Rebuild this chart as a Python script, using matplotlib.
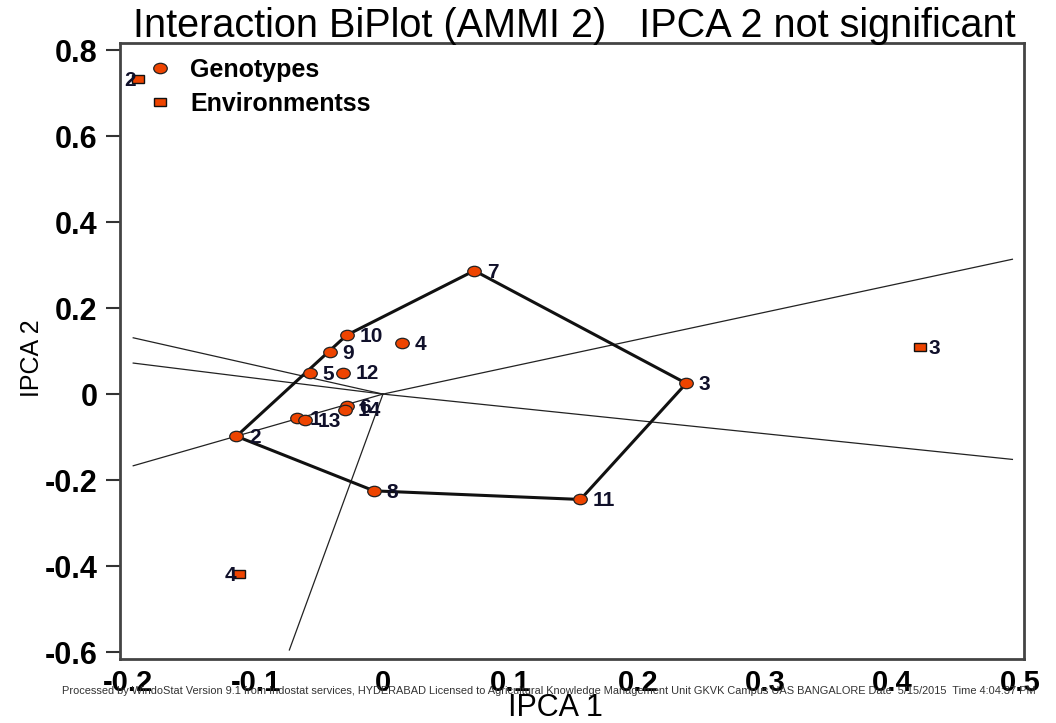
import numpy as np
import matplotlib.pyplot as plt
from matplotlib.markers import MarkerStyle
from matplotlib.transforms import Affine2D
from matplotlib.lines import Line2D

plt.rcParams['font.family'] = ['Liberation Sans', 'DejaVu Sans']

# genotype scores (IPCA 1, IPCA 2)
genotypes = ['1', '2', '3', '4', '5', '6', '7', '8', '9', '10', '11', '12', '13', '14']
gen_x = [-0.0675, -0.115, 0.238, 0.0147, -0.0573, -0.0285, 0.0717, -0.007,
         -0.0416, -0.0285, 0.155, -0.031, -0.061, -0.030]
gen_y = [-0.056, -0.098, 0.025, 0.119, 0.048, -0.027, 0.287, -0.225,
         0.097, 0.137, -0.245, 0.050, -0.060, -0.036]

# environment scores
environments = ['2', '3', '4']
env_x = [-0.192, 0.4215, -0.1128]
env_y = [0.732, 0.1086, -0.419]

# genotypes on the outer polygon, in drawing order
hull = ['7', '3', '11', '8', '2', '10']

xticks = [-0.2, -0.1, 0, 0.1, 0.2, 0.3, 0.4, 0.5]
yticks = [-0.6, -0.4, -0.2, 0, 0.2, 0.4, 0.6, 0.8]

# label side for environment names
env_side = {'2': 'left', '3': 'right', '4': 'left'}

fill = '#EE4400'
circ = MarkerStyle('o', transform=Affine2D().scale(1.3, 1.0))
sqr = MarkerStyle('s', transform=Affine2D().scale(1.4, 1.0))

fig = plt.figure(figsize=(10.56, 7.23), dpi=100)
ax = fig.add_axes([0.1136, 0.0885, 0.8561, 0.8524])
ax.set_xlim(-0.2064, 0.5031)
ax.set_ylim(-0.616, 0.817)

gx = np.array(gen_x)
gy = np.array(gen_y)

# polygon
idx = [genotypes.index(g) for g in hull]
px = np.append(gx[idx], gx[idx[0]])
py = np.append(gy[idx], gy[idx[0]])

# rays from the origin perpendicular to each polygon side
xr0, xr1, yr0, yr1 = -0.196, 0.494, -0.595, 0.8
for k in range(len(idx)):
    p = np.array([px[k], py[k]])
    q = np.array([px[k + 1], py[k + 1]])
    d = q - p
    n = np.array([d[1], -d[0]])
    if np.dot(n, p) < 0:
        n = -n
    ts = []
    if n[0] > 0:
        ts.append(xr1 / n[0])
    if n[0] < 0:
        ts.append(xr0 / n[0])
    if n[1] > 0:
        ts.append(yr1 / n[1])
    if n[1] < 0:
        ts.append(yr0 / n[1])
    t = min(ts)
    ax.plot([0, n[0] * t], [0, n[1] * t], color='#222222', lw=0.9, zorder=1)

ax.plot(px, py, color='#111111', lw=2.2, zorder=2)

ax.plot(gx, gy, ls='none', marker=circ, markersize=7.5, markerfacecolor=fill,
        markeredgecolor='#222222', markeredgewidth=0.9, zorder=3)
for g, x, y in zip(genotypes, gx, gy):
    ax.annotate(g, (x, y), xytext=(9, -1), textcoords='offset points',
                ha='left', va='center', fontsize=15, fontweight='bold',
                color='#10102a', zorder=4)

ax.plot(env_x, env_y, ls='none', marker=sqr, markersize=6, markerfacecolor=fill,
        markeredgecolor='#111111', markeredgewidth=1.0, zorder=3)
for e, x, y in zip(environments, env_x, env_y):
    if env_side[e] == 'left':
        ax.annotate(e, (x, y), xytext=(-2, -1), textcoords='offset points',
                    ha='right', va='center', fontsize=15, fontweight='bold',
                    color='#10102a', zorder=4)
    else:
        ax.annotate(e, (x, y), xytext=(6, -1), textcoords='offset points',
                    ha='left', va='center', fontsize=15, fontweight='bold',
                    color='#10102a', zorder=4)

# axes styling
for s in ax.spines.values():
    s.set_linewidth(2.0)
    s.set_color('#444444')
ax.set_xticks(xticks)
ax.set_xticklabels(['%g' % v for v in xticks])
ax.set_yticks(yticks)
ax.set_yticklabels(['%g' % v for v in yticks])
ax.tick_params(axis='x', length=0, pad=7, labelsize=21)
ax.tick_params(axis='y', length=10, width=1.5, color='#333333', pad=6, labelsize=22)
for lab in ax.get_xticklabels() + ax.get_yticklabels():
    lab.set_fontweight('bold')

# legend
handles = [Line2D([], [], ls='none', marker=circ, markersize=7.5, markerfacecolor=fill,
                  markeredgecolor='#222222', markeredgewidth=0.9),
           Line2D([], [], ls='none', marker=sqr, markersize=6, markerfacecolor=fill,
                  markeredgecolor='#111111', markeredgewidth=1.0)]
ax.legend(handles, ['Genotypes', 'Environmentss'], loc='upper left',
          bbox_to_anchor=(0.017, 0.996), frameon=False, borderpad=0,
          handlelength=1.0, handletextpad=0.7, labelspacing=0.42,
          prop={'weight': 'bold', 'size': 18})

fig.text(574 / 1056, 1 - 37 / 723, 'Interaction BiPlot (AMMI 2)   IPCA 2 not significant',
         ha='center', va='baseline', fontsize=28.5)
fig.text(555 / 1056, 1 - 708 / 723, 'IPCA 1', ha='center', va='center', fontsize=22)
fig.text(32 / 1056, 1 - 358 / 723, 'IPCA 2', ha='center', va='center', rotation=90, fontsize=18)
fig.text(62 / 1056, 1 - 691 / 723,
         'Processed by WindoStat Version 9.1 from Indostat services, HYDERABAD Licensed to '
         'Agricultural Knowledge Management Unit GKVK Campus UAS BANGALORE Date  5/15/2015  '
         'Time 4:04:37 PM',
         ha='left', va='center', fontsize=7.9, color='#333333')

fig.savefig('out.png', dpi=100)
